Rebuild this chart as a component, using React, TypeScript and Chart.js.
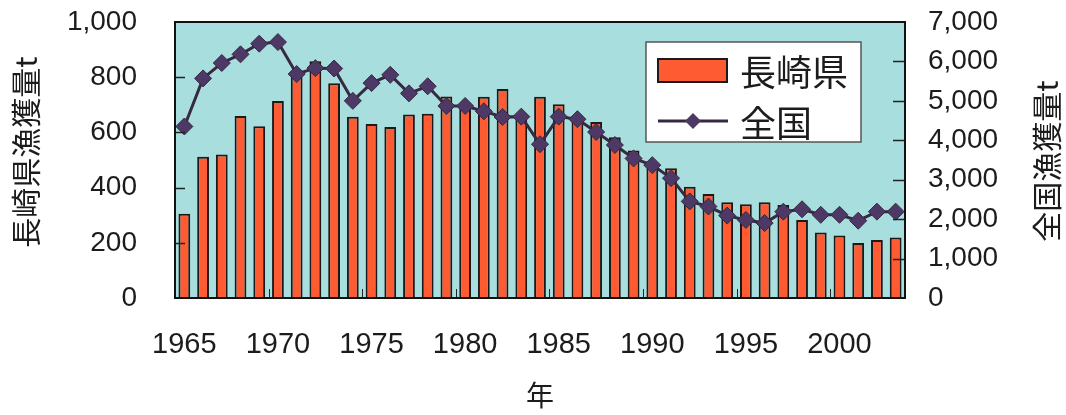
import React, { useEffect, useRef } from "react";
import { Chart, registerables } from "chart.js";

Chart.register(...registerables);

// Years on the category axis
const years: number[] = [
  1965, 1966, 1967, 1968, 1969, 1970, 1971, 1972, 1973, 1974,
  1975, 1976, 1977, 1978, 1979, 1980, 1981, 1982, 1983, 1984,
  1985, 1986, 1987, 1988, 1989, 1990, 1991, 1992, 1993, 1994,
  1995, 1996, 1997, 1998, 1999, 2000, 2001, 2002, 2003,
];

// 長崎県 catch (t), left axis
const nagasakiCatch: number[] = [
  305, 512, 520, 659, 622, 714, 805, 858, 778, 657,
  630, 620, 665, 668, 730, 690, 729, 757, 650, 729,
  702, 655, 638, 582, 534, 490, 470, 403, 377, 347,
  340, 347, 337, 283, 237, 226, 199, 210, 219,
];

// 全国 catch (t), right axis
const nationalCatch: number[] = [
  4350, 5570, 5960, 6180, 6450, 6490, 5680, 5830, 5820, 5000,
  5450, 5660, 5190, 5370, 4870, 4870, 4735, 4590, 4600, 3900,
  4600, 4535, 4210, 3880, 3540, 3370, 3040, 2450, 2320, 2090,
  1980, 1900, 2190, 2250, 2110, 2110, 1960, 2190, 2190,
];

const leftTicks: number[] = [0, 200, 400, 600, 800, 1000];
const rightTicks: number[] = [0, 1000, 2000, 3000, 4000, 5000, 6000, 7000];

const seriesLabels: string[] = ["長崎県", "全国"];
const leftTitle = "長崎県漁獲量t";
const rightTitle = "全国漁獲量t";
const xTitle = "年";

const BAR_FILL = "#ff5b33";
const BAR_EDGE = "#1a1a1a";
const LINE_COLOR = "#352a42";
const POINT_COLOR = "#4d3866";
const PLOT_BG = "#a9dede";
const TEXT = "#1c1c1c";
const LATIN = "'Liberation Sans', Arial, sans-serif";
const CJK = "'Noto Sans CJK JP', sans-serif";

// Cyan plot background
const plotBackground = {
  id: "plotBackground",
  beforeDraw(chart: any) {
    const { ctx, chartArea: a } = chart;
    ctx.save();
    ctx.fillStyle = PLOT_BG;
    ctx.fillRect(a.left, a.top, a.right - a.left, a.bottom - a.top);
    ctx.restore();
  },
};

// Frame, inward tick marks and rotated axis titles
const frameAndTicks = {
  id: "frameAndTicks",
  afterDatasetsDraw(chart: any) {
    const { ctx, chartArea: a, scales } = chart;
    ctx.save();
    ctx.strokeStyle = "#222";
    ctx.lineWidth = 1.5;
    ctx.beginPath();
    leftTicks.slice(1, -1).forEach((v) => {
      const y = Math.round(scales.y.getPixelForValue(v)) + 0.5;
      ctx.moveTo(a.left, y);
      ctx.lineTo(a.left + 10, y);
    });
    rightTicks.slice(1, -1).forEach((v) => {
      const y = Math.round(scales.y1.getPixelForValue(v)) + 0.5;
      ctx.moveTo(a.right - 12, y);
      ctx.lineTo(a.right, y);
    });
    ctx.stroke();
    ctx.lineWidth = 1;
    ctx.beginPath();
    for (let i = 5; i < years.length; i += 5) {
      const x =
        Math.round(
          (scales.x.getPixelForValue(i - 1) + scales.x.getPixelForValue(i)) / 2
        ) + 0.5;
      ctx.moveTo(x, a.bottom);
      ctx.lineTo(x, a.bottom - 9);
    }
    ctx.stroke();

    ctx.strokeStyle = "#111";
    ctx.lineWidth = 2;
    ctx.strokeRect(a.left, a.top, a.right - a.left, a.bottom - a.top);

    ctx.fillStyle = TEXT;
    ctx.font = `30px ${CJK}`;
    ctx.textAlign = "center";
    ctx.textBaseline = "middle";
    ctx.save();
    ctx.translate(26, 152);
    ctx.rotate(-Math.PI / 2);
    ctx.fillText(leftTitle, 0, 0);
    ctx.restore();
    ctx.save();
    ctx.translate(1047, 161);
    ctx.rotate(-Math.PI / 2);
    ctx.fillText(rightTitle, 0, 0);
    ctx.restore();
    ctx.restore();
  },
};

// Boxed legend in the upper right of the plot
const boxedLegend = {
  id: "boxedLegend",
  afterDraw(chart: any) {
    const { ctx, chartArea: a } = chart;
    const ds = chart.data.datasets;
    const bx = a.right - 259;
    const by = a.top + 20;
    const bw = 215;
    const bh = 100;
    ctx.save();
    ctx.fillStyle = "#ffffff";
    ctx.fillRect(bx, by, bw, bh);
    ctx.strokeStyle = "#555";
    ctx.lineWidth = 1.5;
    ctx.strokeRect(bx, by, bw, bh);

    // bar entry
    ctx.fillStyle = ds[0].backgroundColor;
    ctx.fillRect(bx + 12, by + 17, 69, 23);
    ctx.strokeStyle = ds[0].borderColor;
    ctx.lineWidth = 2;
    ctx.strokeRect(bx + 12, by + 17, 69, 23);

    // line entry
    const ly = by + 79;
    ctx.strokeStyle = ds[1].borderColor;
    ctx.lineWidth = ds[1].borderWidth;
    ctx.beginPath();
    ctx.moveTo(bx + 12, ly);
    ctx.lineTo(bx + 82, ly);
    ctx.stroke();
    const cx = bx + 47;
    const r = 8;
    ctx.fillStyle = ds[1].pointBackgroundColor;
    ctx.beginPath();
    ctx.moveTo(cx, ly - r);
    ctx.lineTo(cx + r, ly);
    ctx.lineTo(cx, ly + r);
    ctx.lineTo(cx - r, ly);
    ctx.closePath();
    ctx.fill();

    ctx.fillStyle = TEXT;
    ctx.font = `36px ${CJK}`;
    ctx.textAlign = "left";
    ctx.textBaseline = "middle";
    ctx.fillText(ds[0].label, bx + 94, by + 30);
    ctx.fillText(ds[1].label, bx + 94, ly + 2);
    ctx.restore();
  },
};

const noPadY = (width: number) => (s: any) => {
  s.width = width;
  s.paddingTop = 0;
  s.paddingBottom = 0;
};

export default function App() {
  const canvasRef = useRef<HTMLCanvasElement | null>(null);

  useEffect(() => {
    if (!canvasRef.current) return;
    const chart = new Chart(canvasRef.current, {
      type: "bar",
      data: {
        labels: years.map(String),
        datasets: [
          {
            type: "bar",
            label: seriesLabels[0],
            data: nagasakiCatch,
            yAxisID: "y",
            backgroundColor: BAR_FILL,
            borderColor: BAR_EDGE,
            borderWidth: 2,
            barPercentage: 0.63,
            categoryPercentage: 1,
            order: 2,
          } as any,
          {
            type: "line",
            label: seriesLabels[1],
            data: nationalCatch,
            yAxisID: "y1",
            borderColor: LINE_COLOR,
            borderWidth: 3,
            pointStyle: "rectRot",
            pointRadius: 8.5,
            pointBackgroundColor: POINT_COLOR,
            pointBorderColor: LINE_COLOR,
            pointBorderWidth: 1,
            tension: 0,
            order: 1,
          } as any,
        ],
      },
      options: {
        responsive: false,
        animation: false,
        devicePixelRatio: 1,
        layout: { padding: { top: 22, left: 0, right: 0, bottom: 0 } },
        plugins: {
          legend: { display: false },
          tooltip: { enabled: false },
        },
        scales: {
          x: {
            offset: true,
            grid: { display: false, drawTicks: false },
            border: { display: false },
            ticks: {
              autoSkip: false,
              maxRotation: 0,
              minRotation: 0,
              padding: 30,
              color: TEXT,
              font: { family: LATIN, size: 29 },
              callback: (_v: any, i: number) =>
                years[i] % 5 === 0 ? String(years[i]) : "",
            },
            title: {
              display: true,
              text: xTitle,
              color: TEXT,
              font: { family: CJK, size: 28 },
              padding: { top: 0, bottom: 3 },
            },
            afterFit: (s: any) => {
              s.height = 117;
              s.paddingLeft = 0;
              s.paddingRight = 0;
            },
          },
          y: {
            position: "left",
            min: 0,
            max: 1000,
            grid: { display: false, drawTicks: false },
            border: { display: false },
            afterBuildTicks: (s: any) => {
              s.ticks = leftTicks.map((v) => ({ value: v }));
            },
            ticks: {
              autoSkip: false,
              padding: 38,
              color: TEXT,
              font: { family: LATIN, size: 28 },
              callback: (v: any) => Number(v).toLocaleString("en-US"),
            },
            afterFit: noPadY(175),
          },
          y1: {
            position: "right",
            min: 0,
            max: 7000,
            grid: { display: false, drawTicks: false },
            border: { display: false },
            afterBuildTicks: (s: any) => {
              s.ticks = rightTicks.map((v) => ({ value: v }));
            },
            ticks: {
              autoSkip: false,
              padding: 23,
              color: TEXT,
              font: { family: LATIN, size: 28 },
              callback: (v: any) => Number(v).toLocaleString("en-US"),
            },
            afterFit: noPadY(161),
          },
        },
      } as any,
      plugins: [plotBackground, frameAndTicks, boxedLegend],
    });
    return () => chart.destroy();
  }, []);

  return (
    <div
      style={{
        position: "absolute",
        left: 0,
        top: 0,
        width: 1066,
        height: 415,
        background: "#ffffff",
      }}
    >
      <canvas
        ref={canvasRef}
        width={1066}
        height={415}
        style={{ display: "block", width: 1066, height: 415 }}
      />
    </div>
  );
}
